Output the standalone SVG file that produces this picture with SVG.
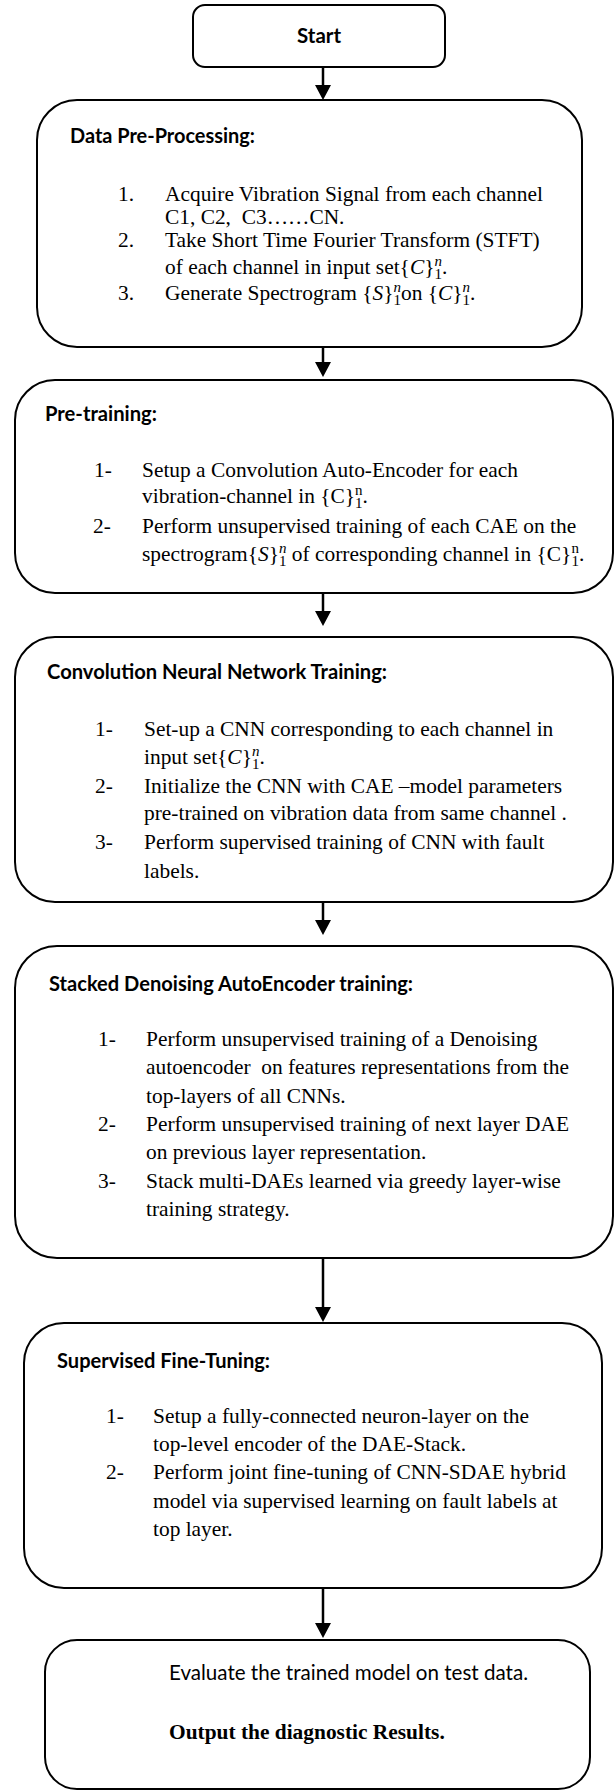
<svg xmlns="http://www.w3.org/2000/svg" width="614" height="1791" viewBox="0 0 614 1791">
<style>
.box{fill:#fff;stroke:#000;stroke-width:2}
.h{font-family:Lato,"Open Sans","Liberation Sans",sans-serif;font-weight:bold;font-size:21px;fill:#000}
.c{font-family:Lato,"Open Sans","Liberation Sans",sans-serif;font-size:21px;fill:#000}
.t{font-family:"Liberation Serif","Times New Roman",serif;font-size:21.4px;fill:#000;white-space:pre}
.tb{font-family:"Liberation Serif","Times New Roman",serif;font-size:21.4px;font-weight:bold;fill:#000}
.i{font-style:italic}
.s{font-size:15px}
.conn line{stroke:#000;stroke-width:2.5}
</style>
<defs>
<marker id="ah" viewBox="0 0 16 16" refX="3" refY="8" markerWidth="16" markerHeight="16" markerUnits="userSpaceOnUse" orient="auto">
<path d="M0,0 L15,8 L0,16 z" fill="#000"/>
</marker>
</defs>
<rect width="614" height="1791" fill="#fff"/>

<g id="connectors" class="conn">
<line x1="323" y1="67" x2="323" y2="88" marker-end="url(#ah)"/>
<line x1="323" y1="347" x2="323" y2="365" marker-end="url(#ah)"/>
<line x1="323" y1="593" x2="323" y2="614" marker-end="url(#ah)"/>
<line x1="323" y1="902" x2="323" y2="923" marker-end="url(#ah)"/>
<line x1="323" y1="1258" x2="323" y2="1310" marker-end="url(#ah)"/>
<line x1="323" y1="1588" x2="323" y2="1626" marker-end="url(#ah)"/>
</g>

<g id="start">
<rect class="box" x="193" y="5" width="252" height="62" rx="12"/>
<text class="h" x="319" y="43" text-anchor="middle" textLength="44" lengthAdjust="spacingAndGlyphs">Start</text>
</g>

<g id="data-preprocessing">
<rect class="box" x="37" y="100" width="545" height="247" rx="40"/>
<text class="h" x="70" y="143" textLength="185" lengthAdjust="spacingAndGlyphs">Data Pre-Processing:</text>
<text class="t" x="118" y="201">1.</text>
<text class="t" x="165" y="201">Acquire Vibration Signal from each channel</text>
<text class="t" x="165" y="224">C1, C2,  C3……CN.</text>
<text class="t" x="118" y="247">2.</text>
<text class="t" x="165" y="247">Take Short Time Fourier Transform (STFT)</text>
<text class="t" x="165" y="274">of each channel in input set{<tspan class="i">C</tspan>}<tspan class="s i" dy="-8">n</tspan><tspan class="s" dx="-7.5" dy="13">1</tspan><tspan dy="-5">.</tspan></text>
<text class="t" x="118" y="300">3.</text>
<text class="t" x="165" y="300">Generate Spectrogram {<tspan class="i">S</tspan>}<tspan class="s i" dy="-8">n</tspan><tspan class="s" dx="-7.5" dy="13">1</tspan><tspan dy="-5">on {</tspan><tspan class="i">C</tspan>}<tspan class="s i" dy="-8">n</tspan><tspan class="s" dx="-7.5" dy="13">1</tspan><tspan dy="-5">.</tspan></text>
</g>

<g id="pre-training">
<rect class="box" x="15" y="380" width="598" height="213" rx="40"/>
<text class="h" x="45" y="421" textLength="112" lengthAdjust="spacingAndGlyphs">Pre-training:</text>
<text class="t" x="94" y="477">1-</text>
<text class="t" x="142" y="477">Setup a Convolution Auto-Encoder for each</text>
<text class="t" x="142" y="503">vibration-channel in {C}<tspan class="s" dy="-8">n</tspan><tspan class="s" dx="-7.5" dy="13">1</tspan><tspan dy="-5">.</tspan></text>
<text class="t" x="93" y="533">2-</text>
<text class="t" x="142" y="533">Perform unsupervised training of each CAE on the</text>
<text class="t" x="142" y="561">spectrogram{<tspan class="i">S</tspan>}<tspan class="s i" dy="-8">n</tspan><tspan class="s" dx="-7.5" dy="13">1</tspan><tspan dy="-5"> of corresponding channel in {C}</tspan><tspan class="s" dy="-8">n</tspan><tspan class="s" dx="-7.5" dy="13">1</tspan><tspan dy="-5">.</tspan></text>
</g>

<g id="cnn-training">
<rect class="box" x="15" y="637" width="598" height="265" rx="40"/>
<text class="h" x="47" y="679" textLength="340" lengthAdjust="spacingAndGlyphs">Convolution Neural Network Training:</text>
<text class="t" x="95" y="736">1-</text>
<text class="t" x="144" y="736">Set-up a CNN corresponding to each channel in</text>
<text class="t" x="144" y="764">input set{<tspan class="i">C</tspan>}<tspan class="s i" dy="-8">n</tspan><tspan class="s" dx="-7.5" dy="13">1</tspan><tspan dy="-5">.</tspan></text>
<text class="t" x="95" y="793">2-</text>
<text class="t" x="144" y="793">Initialize the CNN with CAE –model parameters</text>
<text class="t" x="144" y="820">pre-trained on vibration data from same channel .</text>
<text class="t" x="95" y="849">3-</text>
<text class="t" x="144" y="849">Perform supervised training of CNN with fault</text>
<text class="t" x="144" y="878">labels.</text>
</g>

<g id="sdae-training">
<rect class="box" x="15" y="946" width="598" height="312" rx="42"/>
<text class="h" x="49" y="991" textLength="364" lengthAdjust="spacingAndGlyphs">Stacked Denoising AutoEncoder training:</text>
<text class="t" x="98" y="1046">1-</text>
<text class="t" x="146" y="1046">Perform unsupervised training of a Denoising</text>
<text class="t" x="146" y="1074">autoencoder  on features representations from the</text>
<text class="t" x="146" y="1103">top-layers of all CNNs.</text>
<text class="t" x="98" y="1131">2-</text>
<text class="t" x="146" y="1131">Perform unsupervised training of next layer DAE</text>
<text class="t" x="146" y="1159">on previous layer representation.</text>
<text class="t" x="98" y="1188">3-</text>
<text class="t" x="146" y="1188">Stack multi-DAEs learned via greedy layer-wise</text>
<text class="t" x="146" y="1216">training strategy.</text>
</g>

<g id="fine-tuning">
<rect class="box" x="24" y="1323" width="578" height="265" rx="40"/>
<text class="h" x="57" y="1368" textLength="213" lengthAdjust="spacingAndGlyphs">Supervised Fine-Tuning:</text>
<text class="t" x="106" y="1423">1-</text>
<text class="t" x="153" y="1423">Setup a fully-connected neuron-layer on the</text>
<text class="t" x="153" y="1451">top-level encoder of the DAE-Stack.</text>
<text class="t" x="106" y="1479">2-</text>
<text class="t" x="153" y="1479">Perform joint fine-tuning of CNN-SDAE hybrid</text>
<text class="t" x="153" y="1508">model via supervised learning on fault labels at</text>
<text class="t" x="153" y="1536">top layer.</text>
</g>

<g id="evaluate">
<rect class="box" x="45" y="1640" width="545" height="149" rx="32"/>
<text class="c" x="169" y="1680" textLength="359" lengthAdjust="spacingAndGlyphs">Evaluate the trained model on test data.</text>
<text class="tb" x="169" y="1739">Output the diagnostic Results.</text>
</g>
</svg>
